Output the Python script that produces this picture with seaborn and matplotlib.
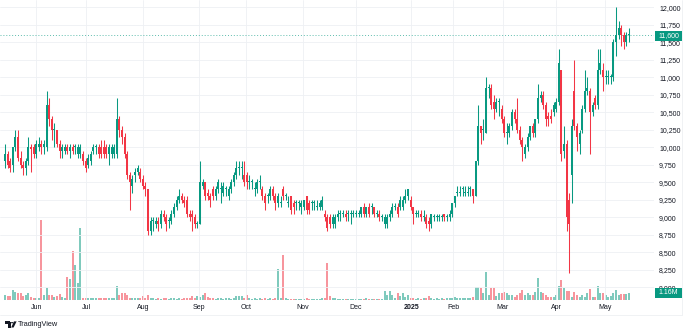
import numpy as np
import pandas as pd
import matplotlib
matplotlib.use("Agg")
import matplotlib.pyplot as plt
from matplotlib.patches import Rectangle, Circle, Polygon
import seaborn as sns

# ---------------- data ----------------
opens = [9800,9900,9800,9750,10000,10150,9850,9750,9700,9800,
         10000,10000,9900,10000,10050,10000,10000,10600,10400,10250,
         10250,10050,9950,9950,10000,9950,10000,10000,9900,9900,
         9900,9800,9750,9800,9950,10000,10000,10000,10000,10000,
         9900,9900,9900,9900,10400,10250,10150,9900,9600,9450,
         9600,9650,9650,9550,9450,9400,8800,8950,8900,8950,
         8900,9050,9000,8950,8950,9050,9150,9250,9300,9250,
         9250,9050,9050,9000,8900,8900,9450,9500,9350,9300,
         9400,9300,9400,9400,9350,9400,9300,9400,9500,9600,
         9700,9700,9600,9600,9500,9500,9400,9400,9500,9400,
         9300,9300,9300,9400,9300,9200,9200,9400,9300,9200,
         9300,9200,9200,9200,9150,9150,9300,9200,9200,9200,
         9150,9150,9150,9050,9000,9000,8900,8900,9000,9050,
         9050,9050,9050,9050,9050,9050,9050,9050,9150,9050,
         9150,9150,9150,9050,9050,9000,8900,8900,9000,9050,
         9150,9150,9150,9150,9250,9300,9250,9150,9050,9050,
         9050,9000,9000,8950,8900,9000,9000,9000,9000,9050,
         9000,9000,9050,9200,9350,9350,9400,9350,9350,9400,
         9400,9300,9800,10300,10250,10200,10850,10850,10650,10550,
         10650,10550,10400,10200,10200,10300,10500,10400,10250,10100,
         9900,10000,10150,10300,10200,10400,10700,10750,10600,10450,
         10450,10500,10550,10650,11100,9950,10050,9250,9600,10800,
         10300,10050,10250,10550,10800,10800,10500,10700,10600,11100,
         11100,11000,11000,11000,11000,11500,11600,11700,11600,11500,
         11600]
highs = [10050,9950,9850,10000,10250,10250,9950,9800,9850,10150,
         10050,10050,10100,10150,10100,10100,10800,10700,10450,10350,
         10250,10100,10050,10050,10050,10050,10050,10050,10050,10050,
         9950,9850,9900,9950,10050,10050,10050,10100,10100,10050,
         10050,10050,10050,10700,10450,10300,10200,9950,9650,9600,
         9700,9750,9700,9600,9500,9400,9000,9000,9000,9000,
         9100,9100,9050,9000,9100,9200,9300,9400,9350,9300,
         9300,9100,9100,9050,8950,9800,9550,9500,9400,9350,
         9450,9450,9550,9500,9500,9450,9450,9550,9650,9800,
         9800,9800,9800,9650,9600,9550,9500,9550,9600,9450,
         9350,9350,9450,9450,9350,9350,9300,9450,9350,9300,
         9300,9250,9250,9250,9250,9250,9300,9250,9250,9250,
         9250,9250,9300,9100,9050,9050,9050,9050,9100,9100,
         9100,9100,9100,9100,9100,9100,9100,9150,9200,9150,
         9200,9200,9150,9100,9100,9050,9050,9050,9100,9200,
         9200,9200,9300,9300,9400,9400,9300,9150,9100,9100,
         9100,9100,9050,9000,9050,9050,9050,9050,9050,9050,
         9050,9100,9200,9300,9450,9450,9450,9450,9450,9450,
         9400,9800,10600,10300,10400,11000,10900,10900,10750,10700,
         10700,10600,10450,10350,10350,10550,10550,10700,10300,10150,
         10050,10200,10300,10350,10400,10900,10800,10800,10650,10500,
         10550,10650,10700,11400,11100,10300,10100,9350,10400,11250,
         10350,10250,10600,11100,11000,10850,10650,10750,11400,11400,
         11200,11100,11100,11050,11550,12000,11800,11750,11650,11650,
         11700]
lows = [9700,9700,9650,9650,9950,9800,9700,9600,9600,9750,
        9650,9850,9850,9950,9900,9900,9950,10300,10100,10000,
        10000,9850,9850,9900,9900,9850,9900,9900,9850,9850,
        9750,9650,9700,9750,9900,9900,9850,9850,9850,9850,
        9750,9850,9850,9850,10150,10050,9850,9550,9100,9350,
        9500,9600,9500,9400,9300,8750,8750,8800,8850,8800,
        8850,8950,8800,8850,8900,9000,9100,9200,9200,9150,
        9000,8950,8800,8850,8850,8900,9400,9250,9250,9150,
        9250,9250,9350,9200,9300,9300,9250,9350,9450,9550,
        9600,9550,9450,9400,9400,9400,9300,9350,9400,9250,
        9100,9200,9250,9250,9100,9150,9150,9250,9250,9150,
        9050,9050,9100,9100,9050,9100,9050,9050,9100,9100,
        9100,9100,9100,8950,8800,8850,8850,8850,8950,8950,
        9000,8950,8950,8900,9000,9000,9000,9000,9000,9000,
        9000,9050,9000,9000,8950,8950,8850,8850,8950,9000,
        9100,9000,9100,9100,9200,9250,9100,8900,9000,9000,
        8950,8950,8850,8800,8850,8950,8950,8950,8950,8950,
        8950,8950,9000,9150,9300,9300,9300,9300,9300,9300,
        9200,9300,9750,10050,10100,10200,10700,10550,10400,10500,
        10450,10350,10150,10050,10150,10250,10350,10200,10050,9800,
        9850,9950,10100,10150,10150,10350,10650,10550,10300,10300,
        10350,10450,10500,10600,9800,9850,8800,8200,9200,10250,
        9950,9900,10200,10500,10750,9900,10450,10550,10550,11050,
        10800,10900,10900,10900,10950,11300,11550,11450,11400,11450,
        11500]
closes = [9900,9750,9700,10000,10150,9850,9750,9700,9800,10000,
          9975,9900,10050,10050,10000,10050,10600,10400,10250,10250,
          10050,9950,10000,10000,9950,10000,9950,10000,10000,10000,
          9800,9700,9850,9900,10000,10000,9900,9900,9900,9900,
          10000,10000,10000,10400,10250,10150,9900,9600,9500,9550,
          9650,9700,9550,9450,9400,8800,8950,8950,8950,8900,
          9050,9000,8900,8950,9050,9150,9250,9300,9250,9200,
          9050,9000,9000,8900,8900,9500,9500,9300,9300,9250,
          9300,9400,9500,9400,9450,9400,9400,9500,9600,9700,
          9700,9700,9500,9500,9500,9500,9400,9500,9500,9300,
          9200,9300,9400,9300,9200,9300,9200,9300,9300,9200,
          9100,9150,9200,9200,9200,9250,9100,9100,9200,9200,
          9150,9200,9250,9000,8850,8900,9000,9000,9050,9050,
          9050,9000,9050,9050,9050,9050,9050,9150,9050,9150,
          9050,9150,9050,9050,9000,9000,9000,9000,9050,9150,
          9150,9050,9250,9250,9300,9400,9150,9050,9050,9050,
          9000,9000,8900,8900,9050,9000,9000,9000,9000,9000,
          9000,9050,9200,9300,9350,9350,9400,9350,9350,9400,
          9300,9800,10300,10200,10250,10850,10850,10600,10550,10650,
          10650,10400,10200,10200,10300,10500,10400,10250,10100,10000,
          10000,10150,10300,10200,10400,10700,10750,10600,10400,10400,
          10400,10600,10650,11200,9900,10050,9000,8900,10300,10300,
          10150,10200,10550,10800,10850,10500,10600,10600,11100,11200,
          11000,11000,11000,11000,11500,11600,11700,11600,11500,11600,
          11600]
volume_m = [0.8,0.7,0.7,1.7,1.4,1.1,1.2,0.6,0.8,1.2,
            0.5,0.4,0.4,0.4,13.3,0.8,2.0,0.8,0.8,0.5,
            0.6,1.0,0.5,0.4,3.9,3.5,8.2,5.8,2.8,12.0,
            0.3,0.3,0.3,0.35,0.3,0.3,0.3,0.35,0.3,0.3,
            0.3,0.35,0.3,2.3,0.8,1.2,1.2,0.8,0.4,0.4,
            0.4,0.35,0.4,0.7,0.3,0.8,0.3,0.3,0.25,0.3,
            0.25,0.3,0.3,0.25,0.3,0.3,0.25,0.3,0.25,0.3,
            0.3,0.3,0.7,0.3,0.6,0.5,0.8,1.1,0.5,0.3,
            0.3,0.25,0.3,0.3,0.25,0.3,0.3,0.25,0.3,0.7,
            0.7,0.7,0.3,0.8,0.3,0.25,0.3,0.25,0.3,0.25,
            0.3,0.25,0.3,0.25,0.3,5.2,0.3,7.5,0.3,0.25,
            0.2,0.25,0.2,0.25,0.2,0.25,0.3,0.2,0.25,0.2,
            0.2,0.25,0.3,0.4,6.2,0.7,0.4,0.3,0.25,0.2,
            0.25,0.2,0.25,0.2,0.25,0.2,0.25,0.2,0.25,0.3,
            0.2,0.25,0.2,0.25,0.2,0.25,1.5,0.9,1.5,0.9,
            0.4,1.1,0.6,1.1,0.5,0.9,0.3,0.3,0.25,0.3,
            0.25,0.3,0.3,0.6,0.3,0.25,0.3,0.25,0.3,0.25,
            0.3,0.35,0.4,0.5,0.35,0.3,0.4,0.3,0.35,0.4,
            0.5,2.2,2.2,2.0,1.1,4.7,0.8,2.0,2.0,0.6,
            1.2,1.1,1.3,1.1,0.9,0.8,0.55,0.8,1.1,1.7,
            0.8,1.1,0.9,0.9,1.3,3.7,1.4,1.1,0.8,0.55,
            0.55,0.55,0.8,2.3,3.3,2.0,1.5,1.5,0.55,1.4,
            0.8,0.55,0.8,0.55,1.1,1.8,0.55,0.55,2.3,1.2,
            1.1,0.8,0.55,0.65,1.1,1.7,0.8,0.95,0.95,0.95,
            1.16]
month_labels = ["Jun", "Jul", "Aug", "Sep", "Oct", "Nov", "Dec", "2025", "Feb", "Mar", "Apr", "May"]
month_bar_pos = [12, 31.2, 53, 74.6, 92.7, 114.6, 135, 156.2, 172.3, 191.5, 212, 230.8]
price_ticks = list(range(8000, 12001, 250))
last_price = 11600
last_volume_label = "1.16M"

# ---------------- styling ----------------
UP = "#089981"
DOWN = "#f23645"
UP_VOL = "#7fcabd"
DOWN_VOL = "#f7959d"
TXT = "#131722"
GRID = "#eef0f4"
BAR_W = 0.78

sns.set_style("white")
plt.rcParams["font.family"] = ["Liberation Sans", "DejaVu Sans"]

W, H = 690, 333
fig = plt.figure(figsize=(W / 100, H / 100), dpi=100)
fig.patch.set_facecolor("white")

AX_RIGHT = 654
AX_BOTTOM = 300
ax = fig.add_axes([0, (H - AX_BOTTOM) / H, AX_RIGHT / W, AX_BOTTOM / H])
axv = ax.twinx()
ax.set_zorder(2)
axv.set_zorder(1)
ax.patch.set_visible(False)

df = pd.DataFrame({
    "bar": np.arange(len(closes)),
    "open": opens, "high": highs, "low": lows, "close": closes,
    "volume": volume_m,
})
df["dir"] = np.where(df["close"] >= df["open"], "up", "down")

# volume (seaborn)
sns.barplot(data=df, x="bar", y="volume", hue="dir",
            palette={"up": UP_VOL, "down": DOWN_VOL},
            native_scale=True, dodge=False, width=BAR_W, saturation=1,
            errorbar=None, legend=False, linewidth=0, ax=axv)
for p in axv.patches:
    cx = p.get_x() + p.get_width() / 2
    p.set_width(BAR_W)
    p.set_x(cx - BAR_W / 2)
axv.set_ylim(0, 50)
axv.axis("off")

# candles
cols = np.where(df["dir"] == "up", UP, DOWN)
ax.vlines(df["bar"], df["low"], df["high"], colors=cols, linewidth=0.75, zorder=3)
body_lo = np.minimum(df["open"], df["close"])
body_h = np.maximum(np.abs(df["close"] - df["open"]), 16)
ax.bar(df["bar"], body_h, bottom=body_lo, width=BAR_W, color=cols, linewidth=0, zorder=4)

# last price dotted line
ax.axhline(last_price, color=UP, lw=0.7, ls=(0, (1, 2)), alpha=0.65, zorder=2.5)

# axes limits / ticks
ax.set_xlim(-1.92, 249.6)
ax.set_ylim(7818, 12104)
ax.yaxis.tick_right()
ax.set_yticks(price_ticks)
ax.set_yticklabels([f"{v:,}" for v in price_ticks])
ax.set_xticks(month_bar_pos)
ax.set_xticklabels(month_labels)
for lbl in ax.get_xticklabels():
    if lbl.get_text() == "2025":
        lbl.set_fontweight("bold")
ax.tick_params(axis="y", length=0, pad=3.6, labelsize=5, labelcolor=TXT)
ax.tick_params(axis="x", length=0, pad=3.2, labelsize=5, labelcolor=TXT)
ax.grid(True, color=GRID, lw=0.6)
ax.set_axisbelow(True)
for s in ax.spines.values():
    s.set_visible(False)
for s in axv.spines.values():
    s.set_visible(False)
ax.set_xlabel("")
ax.set_ylabel("")


def fx(x):
    return x / W


def fy(y):
    return 1 - y / H


# faint frame lines of the price scale / time scale
fig.add_artist(plt.Line2D([fx(682), fx(682)], [fy(0), fy(315)], color="#eef0f3", lw=0.6, zorder=1))
fig.add_artist(plt.Line2D([fx(0), fx(682)], [fy(315), fy(315)], color="#eef0f3", lw=0.6, zorder=1))

# price / volume labels on scale
for ytop, txt in [(31, f"{last_price:,}"), (288, last_volume_label)]:
    fig.add_artist(Rectangle((fx(655), fy(ytop + 10)), 27 / W, 10 / H,
                             transform=fig.transFigure, facecolor=UP, edgecolor="none", zorder=10))
    fig.text(fx(668.5), fy(ytop + 5), txt, color="white", fontsize=5,
             ha="center", va="center", zorder=11)

# TradingView logo
logo_c = TXT
fig.add_artist(Rectangle((fx(5), fy(324)), 5.5 / W, 2.6 / H, transform=fig.transFigure,
                         facecolor=logo_c, edgecolor="none", zorder=10))
fig.add_artist(Rectangle((fx(8), fy(327.5)), 2.5 / W, 6 / H, transform=fig.transFigure,
                         facecolor=logo_c, edgecolor="none", zorder=10))
fig.add_artist(Circle((fx(12.2), fy(322.7)), 1.3 / W, transform=fig.transFigure,
                      facecolor=logo_c, edgecolor="none", zorder=10))
fig.add_artist(Polygon([(fx(14), fy(321.4)), (fx(16.6), fy(321.4)),
                        (fx(13.6), fy(327.5)), (fx(11.2), fy(327.5))],
                       closed=True, transform=fig.transFigure,
                       facecolor=logo_c, edgecolor="none", zorder=10))
fig.text(fx(17.5), fy(324.5), "TradingView", color=logo_c, fontsize=5.3,
         ha="left", va="center", zorder=11)

fig.savefig("out.png", dpi=100)
